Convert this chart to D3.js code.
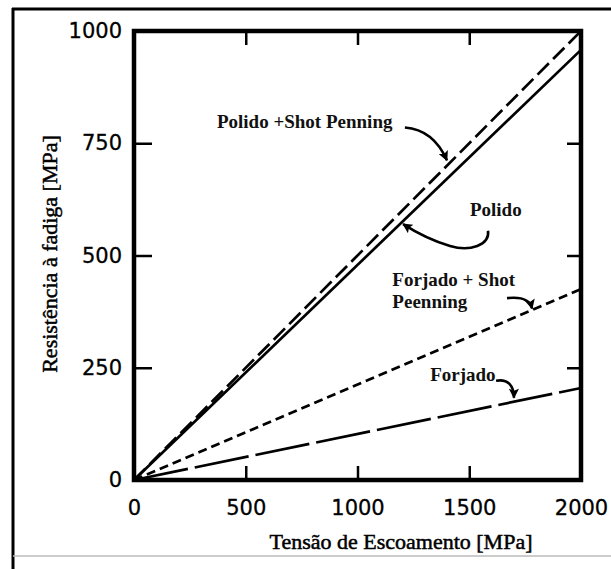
<!DOCTYPE html>
<html>
<head>
<meta charset="utf-8">
<script src="https://cdn.jsdelivr.net/npm/d3@7"></script>
<style>
  body { margin: 0; background: #fff; }
  svg { display: block; }
</style>
</head>
<body>
<svg id="chart" width="611" height="569"></svg>
<script>
// valores
const xDomain = [0, 2000];
const yDomain = [0, 1000];
const xTicks = [0, 500, 1000, 1500, 2000];
const yTicks = [0, 250, 500, 750, 1000];
const tensao = [0, 2000];
const polidoShot = [0, 1000];
const polido = [0, 958];
const forjadoShot = [0, 425];
const forjado = [0, 205];

const svg = d3.select("#chart");

const x = d3.scaleLinear().domain(xDomain).range([134, 581]);
const y = d3.scaleLinear().domain(yDomain).range([480, 31]);

// moldura externa
svg.append("line").attr("x1", 13).attr("y1", 8).attr("x2", 13).attr("y2", 569)
    .attr("stroke", "#000").attr("stroke-width", 3);
svg.append("line").attr("x1", 12).attr("y1", 9).attr("x2", 611).attr("y2", 9)
    .attr("stroke", "#000").attr("stroke-width", 3);
svg.append("line").attr("x1", 13).attr("y1", 556).attr("x2", 611).attr("y2", 556)
    .attr("stroke", "#bbb").attr("stroke-width", 1.5);

const defs = svg.append("defs");
defs.append("marker")
    .attr("id", "seta")
    .attr("viewBox", "0 0 10 10")
    .attr("refX", 9).attr("refY", 5)
    .attr("markerWidth", 13).attr("markerHeight", 10)
    .attr("markerUnits", "userSpaceOnUse")
    .attr("orient", "auto")
    .append("path").attr("d", "M0,0 L10,5 L0,10 L2,5 z").attr("fill", "#000");

// eixos com ticks para dentro
const axisStyle = (g) => {
    g.select(".domain").remove();
    g.selectAll(".tick line").attr("stroke", "#000").attr("stroke-width", 2.5);
    g.selectAll(".tick text").attr("font-family", "DejaVu Sans, sans-serif")
        .attr("font-size", 21).attr("fill", "#000")
        .attr("stroke", "#000").attr("stroke-width", 0.3);
};

svg.append("g")
    .attr("transform", "translate(0," + y(0) + ")")
    .call(d3.axisBottom(x).tickValues(xTicks).tickSizeInner(-14).tickPadding(20).tickFormat(d3.format("d")))
    .call(axisStyle)
    .call((g) => g.selectAll(".tick").filter((d) => d == 0 || d == 2000).select("line").remove());

svg.append("g")
    .attr("transform", "translate(" + x(0) + ",0)")
    .call(d3.axisLeft(y).tickValues(yTicks).tickSizeInner(-18).tickPadding(12).tickFormat(d3.format("d")))
    .call(axisStyle)
    .call((g) => g.selectAll(".tick").filter((d) => d == 0 || d == 1000).select("line").remove());

svg.append("g")
    .attr("transform", "translate(0," + y(1000) + ")")
    .call(d3.axisTop(x).tickValues(xTicks.slice(1, 4)).tickSizeInner(-14).tickFormat(""))
    .call(axisStyle);

svg.append("g")
    .attr("transform", "translate(" + x(2000) + ",0)")
    .call(d3.axisRight(y).tickValues(yTicks.slice(1, 4)).tickSizeInner(-14).tickFormat(""))
    .call(axisStyle);

// area do grafico
svg.append("rect")
    .attr("x", x(0)).attr("y", y(1000))
    .attr("width", x(2000) - x(0)).attr("height", y(0) - y(1000))
    .attr("fill", "none").attr("stroke", "#000").attr("stroke-width", 4.5);

// retas
const series = [
    { values: polidoShot, dash: "16,6" },
    { values: polido, dash: null },
    { values: forjadoShot, dash: "9,5" },
    { values: forjado, dash: "55,7" }
];

const line = d3.line().x((d) => x(d[0])).y((d) => y(d[1]));

svg.append("g").selectAll("path")
    .data(series)
    .join("path")
    .attr("d", (s) => line(tensao.map((t, i) => [t, s.values[i]])))
    .attr("fill", "none")
    .attr("stroke", "#000")
    .attr("stroke-width", 2.7)
    .attr("stroke-dasharray", (s) => s.dash);

// rotulos e setas (coordenadas em unidades do grafico)
const rotulos = [
    { text: "Polido +Shot Penning", at: [371, 783] },
    { text: "Polido", at: [1503, 587] },
    { text: "Forjado + Shot", at: [1156, 432] },
    { text: "Peenning", at: [1156, 383] },
    { text: "Forjado", at: [1325, 220] }
];

svg.append("g").selectAll("text")
    .data(rotulos)
    .join("text")
    .attr("x", (d) => x(d.at[0]))
    .attr("y", (d) => y(d.at[1]))
    .attr("font-family", "Liberation Serif, Times New Roman, serif")
    .attr("font-weight", "bold")
    .attr("font-size", 19)
    .attr("fill", "#111")
    .text((d) => d.text);

const setas = [
    [[1212, 785], [1315, 781], [1369, 747], [1400, 712]],
    [[1584, 555], [1593, 523], [1503, 508], [1414, 521], [1324, 535], [1257, 553], [1204, 570]],
    [[1669, 405], [1736, 409], [1772, 400], [1781, 382]],
    [[1620, 221], [1673, 226], [1700, 210], [1700, 183]]
];

const curva = (pts) => {
    let d = "M" + x(pts[0][0]) + "," + y(pts[0][1]);
    for (let i = 1; i < pts.length; i += 3) {
        d += "C" + [pts[i], pts[i + 1], pts[i + 2]].map((p) => x(p[0]) + "," + y(p[1])).join(" ");
    }
    return d;
};

svg.append("g").selectAll("path")
    .data(setas)
    .join("path")
    .attr("d", curva)
    .attr("fill", "none")
    .attr("stroke", "#000")
    .attr("stroke-width", 2.6)
    .attr("marker-end", "url(#seta)");

// titulos dos eixos
svg.append("text")
    .attr("x", 401).attr("y", 549)
    .attr("text-anchor", "middle")
    .attr("font-family", "Liberation Serif, Times New Roman, serif")
    .attr("font-size", 22)
    .attr("stroke", "#000").attr("stroke-width", 0.5)
    .text("Tensão de Escoamento [MPa]");

svg.append("text")
    .attr("transform", "translate(57,254) rotate(-90)")
    .attr("text-anchor", "middle")
    .attr("font-family", "Liberation Serif, Times New Roman, serif")
    .attr("font-size", 22)
    .attr("stroke", "#000").attr("stroke-width", 0.5)
    .text("Resistência à fadiga [MPa]");
</script>
</body>
</html>
